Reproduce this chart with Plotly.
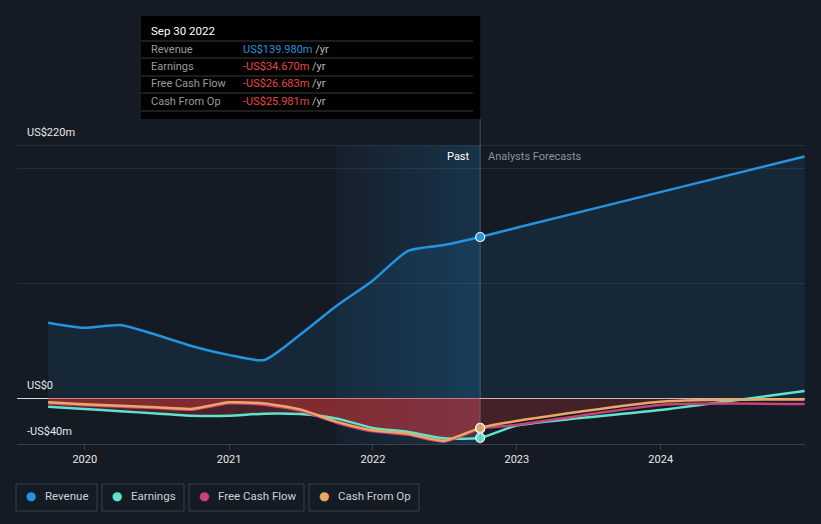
import plotly.graph_objects as go
import pandas as pd

# ---------------- data (US$ millions) ----------------
past_dates = ['2019-09-30', '2019-12-31', '2020-03-31', '2020-06-30', '2020-09-30',
              '2020-12-31', '2021-03-31', '2021-06-30', '2021-09-30', '2021-12-31',
              '2022-03-31', '2022-06-30', '2022-09-30']
fc_dates = ['2022-09-30', '2022-12-31', '2023-12-31', '2024-12-31']

revenue_past = [65.5, 61.0, 63.5, 55.0, 45.0, 37.5, 33.0, 55.0, 80.0, 102.0, 128.0, 133.0, 139.98]
earnings_past = [-7.5, -9.5, -11.5, -13.5, -15.4, -15.4, -13.6, -14.0, -17.8, -26.0, -29.5, -35.0, -34.67]
fcf_past = [-4.6, -6.3, -7.6, -8.8, -10.2, -4.6, -5.8, -11.0, -21.5, -29.0, -32.0, -38.0, -26.683]
cfo_past = [-3.8, -5.5, -6.8, -8.0, -9.4, -3.8, -4.8, -9.9, -20.5, -28.0, -31.0, -37.2, -25.981]

revenue_fc = [139.98, 148.0, 179.0, 210.0]
earnings_fc = [-34.67, -24.0, -10.5, 6.0]
fcf_fc = [-26.683, -23.5, -6.0, -5.2]
cfo_fc = [-25.981, -20.0, -3.2, -1.2]

series_names = ['Revenue', 'Earnings', 'Free Cash Flow', 'Cash From Op']
series_colors = ['#2394df', '#5fe3cd', '#c8417f', '#e9a95f']
y_label_vals = [220, 0, -40]
x_tick_years = ['2020', '2021', '2022', '2023', '2024']
x_range = ['2019-07-13', '2025-01-01']
highlight_start = '2021-09-30'

# ---------------- geometry helpers ----------------
W, H = 821, 524
L, R, T, B = 17, 16, 145, 80
PW, PH = W - L - R, H - T - B
BG = '#151b24'
FONT = 'Roboto, "Open Sans", sans-serif'


def px(x):
    return (x - L) / PW


def py(y):
    return (H - B - y) / PH


def date_frac(d):
    a, b = pd.Timestamp(x_range[0]), pd.Timestamp(x_range[1])
    return (pd.Timestamp(d) - a) / (b - a)


def money(v):
    s = f"US${abs(v):,.3f}m"
    return ('-' + s) if v < 0 else s


def money_axis(v):
    s = f"US${abs(v):g}m" if v != 0 else "US$0"
    return ('-' + s) if v < 0 else s


all_dates = past_dates + fc_dates[1:]
rev_all = revenue_past + revenue_fc[1:]
earn_all = earnings_past + earnings_fc[1:]
fcf_all = fcf_past + fcf_fc[1:]
cfo_all = cfo_past + cfo_fc[1:]
split = past_dates[-1]

fig = go.Figure()

# highlighted last year of the past
fig.add_trace(go.Scatter(
    x=[highlight_start, split, split, highlight_start, highlight_start],
    y=[-40, -40, 220, 220, -40], mode='lines', line=dict(width=0),
    fill='toself', fillcolor='rgba(35,148,223,0.12)',
    fillgradient=dict(type='horizontal',
                      colorscale=[[0, 'rgba(35,148,223,0.04)'], [1, 'rgba(35,148,223,0.2)']]),
    hoverinfo='skip'))

# revenue area
fig.add_trace(go.Scatter(x=all_dates, y=rev_all, mode='lines',
                         line=dict(color=series_colors[0], width=2.5, shape='spline', smoothing=0.6),
                         fill='tozeroy', fillcolor='rgba(35,148,223,0.11)', hoverinfo='skip'))

# negative fills
fig.add_trace(go.Scatter(x=past_dates, y=earnings_past, mode='lines',
                         line=dict(width=0, shape='spline', smoothing=0.6),
                         fill='tozeroy', fillcolor='rgba(215,55,60,0.26)', hoverinfo='skip'))
fig.add_trace(go.Scatter(x=past_dates, y=cfo_past, mode='lines',
                         line=dict(width=0, shape='spline', smoothing=0.6),
                         fill='tozeroy', fillcolor='rgba(215,55,60,0.4)', hoverinfo='skip'))
fig.add_trace(go.Scatter(x=fc_dates, y=cfo_fc, mode='lines',
                         line=dict(width=0, shape='spline', smoothing=0.6),
                         fill='tozeroy', fillcolor='rgba(215,55,60,0.24)', hoverinfo='skip'))

# lines
for vals, col in [(earn_all, series_colors[1]), (fcf_all, series_colors[2]), (cfo_all, series_colors[3])]:
    fig.add_trace(go.Scatter(x=all_dates, y=vals, mode='lines',
                             line=dict(color=col, width=2.5, shape='spline', smoothing=0.6),
                             hoverinfo='skip'))

# markers at the last reported point
for vals, col in [(revenue_past, series_colors[0]), (earnings_past, series_colors[1]),
                  (fcf_past, series_colors[2]), (cfo_past, series_colors[3])]:
    fig.add_trace(go.Scatter(x=[split], y=[vals[-1]], mode='markers',
                             marker=dict(size=9, color=col, line=dict(color='#ffffff', width=1.2)),
                             hoverinfo='skip'))

shapes = []
annotations = []

# top line at 220
shapes.append(dict(type='line', xref='paper', yref='y', x0=0, x1=1, y0=220, y1=220,
                   line=dict(color='#3b424d', width=1)))

# y labels
for v in y_label_vals:
    annotations.append(dict(xref='paper', yref='y', x=px(25), y=v, yshift=13,
                            text=money_axis(v), showarrow=False, xanchor='left', yanchor='middle',
                            font=dict(family=FONT, size=11, color='#e8e8e8')))

# split line (tooltip guide)
sx = date_frac(split)
shapes.append(dict(type='line', xref='paper', yref='paper', x0=sx, x1=sx, y0=0, y1=py(119),
                   line=dict(color='rgba(120,150,180,0.45)', width=1)))

# Past / Analysts Forecasts labels
annotations.append(dict(xref='paper', yref='paper', x=sx, xshift=-8, y=py(156), text='Past',
                        showarrow=False, xanchor='right', yanchor='middle',
                        font=dict(family=FONT, size=11, color='#ffffff')))
annotations.append(dict(xref='paper', yref='paper', x=sx, xshift=6, y=py(156), text='Analysts Forecasts',
                        showarrow=False, xanchor='left', yanchor='middle',
                        font=dict(family=FONT, size=11, color='#8c9099')))

# tooltip box
shapes.append(dict(type='rect', xref='paper', yref='paper', x0=px(141), x1=sx, y0=py(119), y1=py(16),
                   fillcolor='#000000', line=dict(width=0), layer='above'))
for yy in [41, 58, 76, 93, 111]:
    shapes.append(dict(type='line', xref='paper', yref='paper', x0=px(141), x1=px(473), y0=py(yy), y1=py(yy),
                       line=dict(color='#3a3a3a', width=1), layer='above'))
annotations.append(dict(xref='paper', yref='paper', x=px(149), y=py(31),
                        text=pd.Timestamp(split).strftime('%b %d %Y'), showarrow=False,
                        xanchor='left', yanchor='middle',
                        font=dict(family=FONT, size=11.5, color='#ffffff')))
row_vals = [revenue_past[-1], earnings_past[-1], fcf_past[-1], cfo_past[-1]]
for name, v, yy in zip(series_names, row_vals, [49, 67, 84, 101]):
    annotations.append(dict(xref='paper', yref='paper', x=px(149), y=py(yy), text=name, showarrow=False,
                            xanchor='left', yanchor='middle',
                            font=dict(family=FONT, size=11, color='#9a9a9a')))
    vcol = '#2394df' if v >= 0 else '#e84545'
    annotations.append(dict(xref='paper', yref='paper', x=px(241), y=py(yy),
                            text=f'<span style="color:{vcol}">{money(v)}</span> /yr', showarrow=False,
                            xanchor='left', yanchor='middle',
                            font=dict(family=FONT, size=11, color='#b8b8b8')))

# legend boxes
legend_boxes = [(16, 97), (102, 184), (189, 304), (309, 419)]
for (x0, x1), name, col in zip(legend_boxes, series_names, series_colors):
    shapes.append(dict(type='rect', xref='paper', yref='paper', x0=px(x0), x1=px(x1), y0=py(511), y1=py(484),
                       line=dict(color='#3a414c', width=1), fillcolor='rgba(0,0,0,0)'))
    annotations.append(dict(xref='paper', yref='paper', x=px(x0 + 15), y=py(496), text='●', showarrow=False,
                            xanchor='center', yanchor='middle',
                            font=dict(family='DejaVu Sans', size=12, color=col)))
    annotations.append(dict(xref='paper', yref='paper', x=px(x0 + 27), y=py(496), text=name, showarrow=False,
                            xanchor='left', yanchor='middle',
                            font=dict(family=FONT, size=11.5, color='#d0d0d0')))

fig.update_layout(
    width=W, height=H, margin=dict(l=L, r=R, t=T, b=B, autoexpand=False),
    paper_bgcolor=BG, plot_bgcolor=BG, showlegend=False,
    shapes=shapes, annotations=annotations,
    xaxis=dict(type='date', range=x_range, showgrid=False,
               tickvals=[f'{y}-01-01' for y in x_tick_years], ticktext=x_tick_years,
               ticks='outside', ticklen=5, tickcolor='#3b424d', automargin=False,
               showline=True, linecolor='#3b424d', linewidth=1, zeroline=False,
               tickfont=dict(family=FONT, size=11, color='#e8e8e8'), fixedrange=True),
    yaxis=dict(range=[-40, 220], tickvals=[100, 200], showticklabels=False, automargin=False,
               gridcolor='#262d38', gridwidth=1, zeroline=True, zerolinecolor='#d8d8d8',
               zerolinewidth=1, fixedrange=True),
)

fig.write_html('out.html')
